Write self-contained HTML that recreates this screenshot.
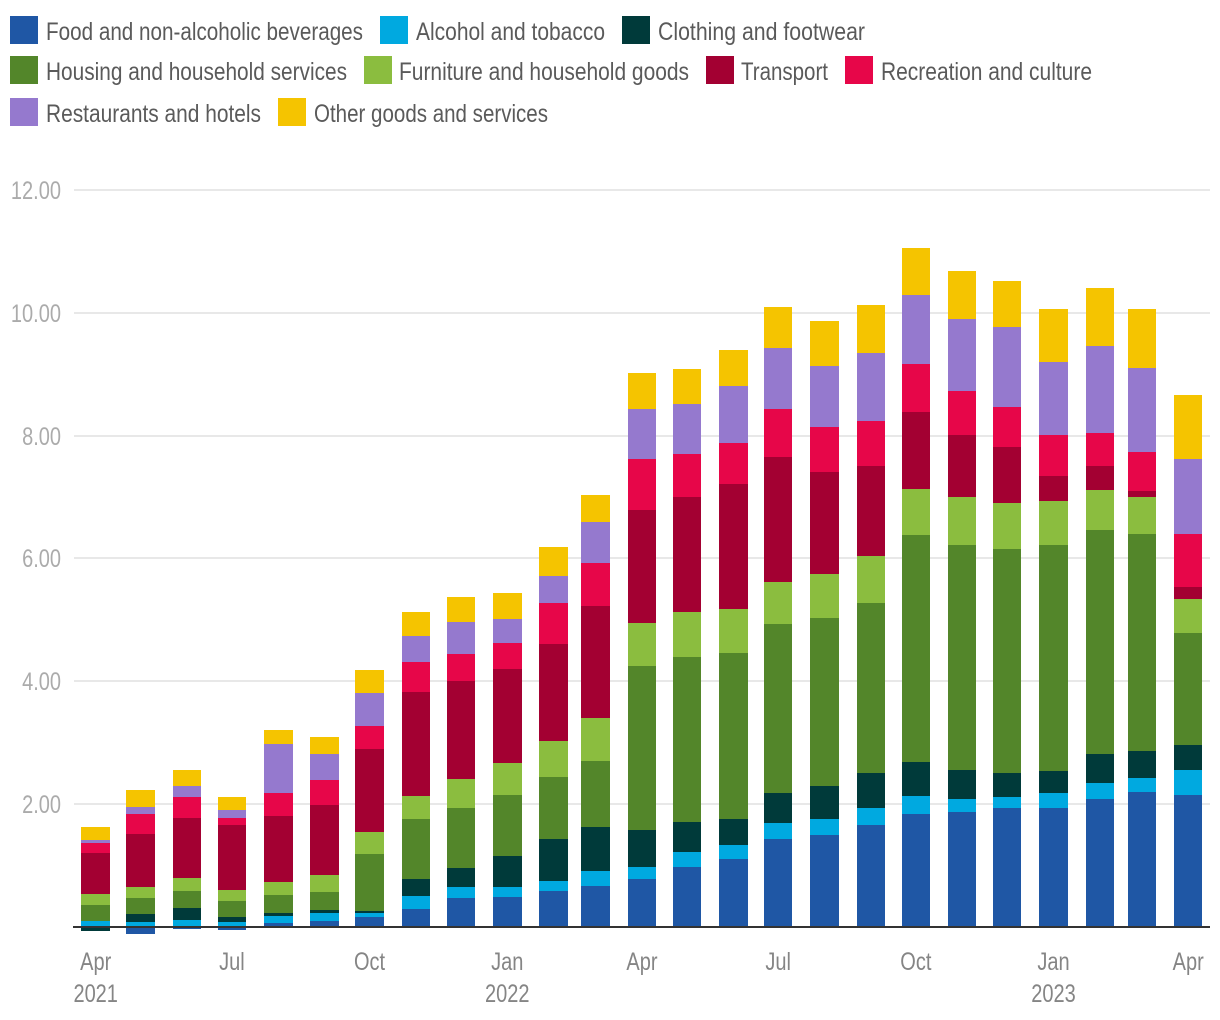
<!DOCTYPE html>
<html lang="en">
<head>
<meta charset="utf-8">
<title>Inflation contributions stacked bar chart</title>
<style>
html,body{margin:0;padding:0;background:#fff;}
svg{display:block;font-family:"Liberation Sans",sans-serif;}
.lg{font-size:25px;fill:#5a5a5a;}
</style>
</head>
<body>
<svg id="chart" xmlns="http://www.w3.org/2000/svg" width="1220" height="1020" viewBox="0 0 1220 1020">
  <rect x="0" y="0" width="1220" height="1020" fill="#ffffff"/>
  <g id="legend">
    <g><rect x="10" y="16" width="28" height="28" fill="#1f57a5"/><text class="lg" x="46" y="40" textLength="317" lengthAdjust="spacingAndGlyphs">Food and non-alcoholic beverages</text></g>
    <g><rect x="380" y="16" width="28" height="28" fill="#00a9e0"/><text class="lg" x="416" y="40" textLength="189" lengthAdjust="spacingAndGlyphs">Alcohol and tobacco</text></g>
    <g><rect x="622" y="16" width="28" height="28" fill="#003a3a"/><text class="lg" x="658" y="40" textLength="207" lengthAdjust="spacingAndGlyphs">Clothing and footwear</text></g>
    <g><rect x="10" y="56" width="28" height="28" fill="#53862a"/><text class="lg" x="46" y="80" textLength="301" lengthAdjust="spacingAndGlyphs">Housing and household services</text></g>
    <g><rect x="364" y="56" width="28" height="28" fill="#8bbd3f"/><text class="lg" x="399" y="80" textLength="290" lengthAdjust="spacingAndGlyphs">Furniture and household goods</text></g>
    <g><rect x="706" y="56" width="28" height="28" fill="#a30032"/><text class="lg" x="741" y="80" textLength="87" lengthAdjust="spacingAndGlyphs">Transport</text></g>
    <g><rect x="845" y="56" width="28" height="28" fill="#e70649"/><text class="lg" x="881" y="80" textLength="211" lengthAdjust="spacingAndGlyphs">Recreation and culture</text></g>
    <g><rect x="10" y="98" width="28" height="28" fill="#9579ce"/><text class="lg" x="46" y="122" textLength="215" lengthAdjust="spacingAndGlyphs">Restaurants and hotels</text></g>
    <g><rect x="278" y="98" width="28" height="28" fill="#f5c400"/><text class="lg" x="314" y="122" textLength="234" lengthAdjust="spacingAndGlyphs">Other goods and services</text></g>
  </g>
  <g id="grid"></g>
  <g id="ylabels"></g>
  <g id="bars"></g>
  <g id="axis"></g>
</svg>
<script>
const months = ["2021-04-01","2021-05-01","2021-06-01","2021-07-01","2021-08-01","2021-09-01","2021-10-01","2021-11-01","2021-12-01","2022-01-01","2022-02-01","2022-03-01","2022-04-01","2022-05-01","2022-06-01","2022-07-01","2022-08-01","2022-09-01","2022-10-01","2022-11-01","2022-12-01","2023-01-01","2023-02-01","2023-03-01","2023-04-01"];
const food = [0,-0.11,-0.03,-0.05,0.07,0.10,0.16,0.29,0.47,0.49,0.59,0.67,0.78,0.98,1.11,1.43,1.50,1.66,1.84,1.87,1.94,1.94,2.08,2.20,2.15];
const alcohol = [0.10,0.08,0.11,0.08,0.11,0.13,0.07,0.21,0.18,0.16,0.16,0.24,0.20,0.24,0.23,0.26,0.26,0.28,0.29,0.21,0.18,0.24,0.26,0.23,0.41];
const clothing = [-0.07,0.13,0.20,0.08,0.05,0.05,0.02,0.28,0.31,0.50,0.68,0.72,0.60,0.49,0.42,0.49,0.54,0.57,0.55,0.47,0.39,0.36,0.47,0.44,0.40];
const housing = [0.26,0.26,0.28,0.26,0.28,0.29,0.94,0.98,0.98,0.99,1.01,1.07,2.67,2.69,2.70,2.75,2.73,2.77,3.70,3.67,3.65,3.68,3.65,3.53,1.83];
const furniture = [0.18,0.18,0.21,0.18,0.22,0.28,0.36,0.37,0.46,0.52,0.59,0.70,0.70,0.73,0.72,0.68,0.72,0.76,0.75,0.78,0.75,0.72,0.65,0.60,0.55];
const transport = [0.67,0.86,0.98,1.06,1.08,1.13,1.35,1.69,1.61,1.54,1.58,1.82,1.84,1.87,2.03,2.04,1.66,1.47,1.25,1.01,0.91,0.41,0.39,0.10,0.20];
const recreation = [0.15,0.33,0.34,0.11,0.37,0.41,0.37,0.49,0.44,0.42,0.67,0.70,0.83,0.70,0.67,0.78,0.73,0.72,0.78,0.72,0.65,0.66,0.54,0.64,0.85];
const restaurants = [0.05,0.11,0.18,0.13,0.80,0.42,0.54,0.42,0.52,0.39,0.44,0.67,0.81,0.81,0.93,0.99,0.99,1.11,1.13,1.17,1.30,1.19,1.42,1.36,1.23];
const other = [0.21,0.28,0.26,0.21,0.23,0.28,0.37,0.39,0.40,0.42,0.47,0.44,0.59,0.57,0.59,0.67,0.74,0.78,0.76,0.78,0.75,0.87,0.94,0.97,1.04];
const yTicks = [2,4,6,8,10,12];
const xTickDates = ["2021-04-01","2021-07-01","2021-10-01","2022-01-01","2022-04-01","2022-07-01","2022-10-01","2023-01-01","2023-04-01"];
const xTickMonths = ["Apr","Jul","Oct","Jan","Apr","Jul","Oct","Jan","Apr"];
const xTickYears = ["2021","","","2022","","","","2023",""];
const seriesNames = ["food","alcohol","clothing","housing","furniture","transport","recreation","restaurants","other"];
const seriesColors = ["#1f57a5","#00a9e0","#003a3a","#53862a","#8bbd3f","#a30032","#e70649","#9579ce","#f5c400"];
const seriesValues = [food,alcohol,clothing,housing,furniture,transport,recreation,restaurants,other];

const NS = "http://www.w3.org/2000/svg";
const start = Date.UTC(2021,3,1);
const xScale = d => { const p = d.split("-").map(Number); return 95.7 + (Date.UTC(p[0],p[1]-1,p[2]) - start) / 86400000 * 1.4966; };
const yScale = v => 926.8 - 61.4 * v;
const barWidth = 28.5;
const condense = 0.8;

function make(tag, attrs, parent){
  const el = document.createElementNS(NS, tag);
  for (const k in attrs) el.setAttribute(k, attrs[k]);
  parent.appendChild(el);
  return el;
}
function squeeze(t){
  const w = t.getComputedTextLength();
  t.setAttribute("textLength", (w * condense).toFixed(1));
  t.setAttribute("lengthAdjust", "spacingAndGlyphs");
}

const grid = document.getElementById("grid");
const ylabels = document.getElementById("ylabels");
yTicks.forEach(v => {
  const y = Math.round(yScale(v));
  const line = make("rect", {x:74, y:y-1, width:1136, height:2, fill:"#e8e8e8"}, grid);
  
  
  const t = make("text", {x:61, y:y+9, "font-size":25, fill:"#ababab", "text-anchor":"end"}, ylabels);
  t.textContent = v.toFixed(2);
  
  
  squeeze(t);
});

const barsG = document.getElementById("bars");
months.forEach((m, i) => {
  const c = xScale(m);
  const x0 = Math.round(c - barWidth/2);
  const x1 = Math.round(c + barWidth/2);
  const g = make("g", {}, barsG);
  
  
  let pos = 0, neg = 0;
  seriesValues.forEach((vals, s) => {
    const v = vals[i];
    if (v === 0) return;
    let a, b;
    if (v > 0) { a = pos; pos += v; b = pos; } else { a = neg; neg += v; b = neg; }
    const yTop = Math.round(yScale(Math.max(a,b)));
    const yBot = Math.round(yScale(Math.min(a,b)));
    const r = make("rect", {x:x0, y:yTop, width:x1-x0, height:Math.max(yBot-yTop,0), fill:seriesColors[s], "shape-rendering":"crispEdges"}, g);
    
    
  });
});

const axis = document.getElementById("axis");
const baseline = make("rect", {x:73, y:926, width:1137, height:2, fill:"#333333"}, axis);


xTickDates.forEach((d, i) => {
  const x = xScale(d);
  const t = make("text", {x:x, y:970, "font-size":25, fill:"#858585", "text-anchor":"middle"}, axis);
  t.textContent = xTickMonths[i];
  
  
  squeeze(t);
  if (xTickYears[i]) {
    const yr = make("text", {x:x, y:1002, "font-size":25, fill:"#858585", "text-anchor":"middle"}, axis);
    yr.textContent = xTickYears[i];
    
    
    squeeze(yr);
  }
});
</script>
</body>
</html>
